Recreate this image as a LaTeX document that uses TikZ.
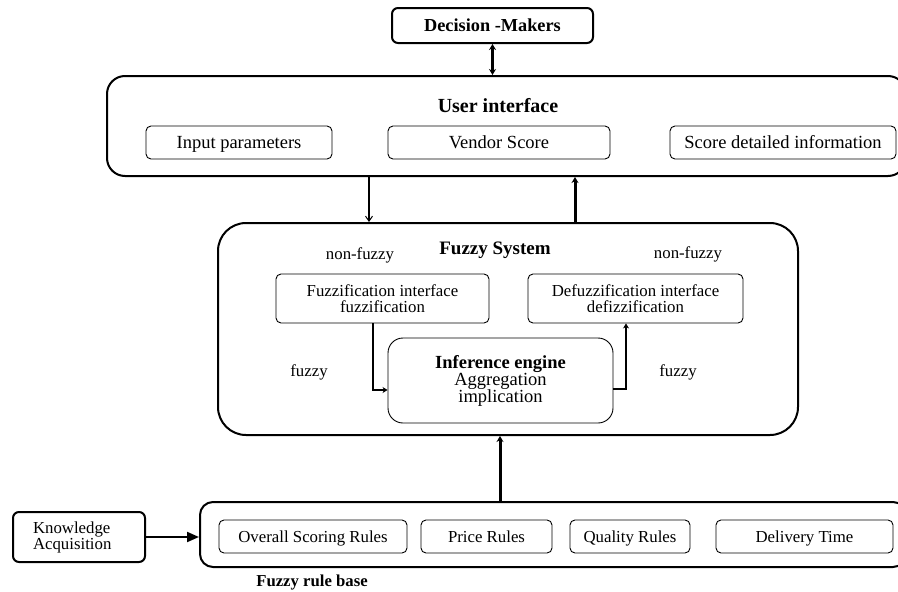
\documentclass[tikz,border=0pt]{standalone}
\usepackage{fontspec}
\setmainfont{Liberation Serif}
\usetikzlibrary{arrows.meta}
\newcommand{\szA}{\fontsize{18.5}{17}\selectfont}
\newcommand{\szB}{\fontsize{16.8}{16}\selectfont}
\tikzset{
  outerbox/.style={draw, line width=2pt, rounded corners=#1},
  outerbox/.default=18pt,
  innerbox/.style={draw, line width=0.9pt, rounded corners=5pt, inner sep=0pt},
  oneline/.style={text height=#1, text depth=0pt},
  oneline/.default=12.2pt,
  lbl/.style={inner sep=0pt},
  thinarrow/.style={line width=1.4pt, -{Straight Barb[length=5pt,width=7pt,line width=1pt]}},
  fatarrow/.style={line width=3pt, -{Stealth[length=6pt,width=7pt]}},
  midarrow/.style={line width=1.8pt, -{Stealth[length=5pt,width=6pt]}},
}
\begin{document}
\begin{tikzpicture}[x=1pt,y=-1pt]
\path[use as bounding box] (0,0) rectangle (898,592);
\clip (0,0) rectangle (898,592);
\fill[white] (0,0) rectangle (898,592);

% Decision makers
\node[outerbox=6pt, oneline=12.1pt, minimum width=201pt, minimum height=35pt, font=\fontsize{18.3}{18}\selectfont\bfseries] (dm) at (492.5,25.5) {Decision -Makers};

% User interface
\node[outerbox=18pt, minimum width=799pt, minimum height=100pt] (ui) at (506.5,126) {};
\node[lbl, font=\fontsize{20}{20}\selectfont\bfseries] (uititle) at (498,106) {User interface};
\node[innerbox, oneline, minimum width=186pt, minimum height=33pt, font=\szA] (inp) at (239,142.5) {Input parameters};
\node[innerbox, oneline, minimum width=222pt, minimum height=33pt, font=\szA] (vs) at (499,142.5) {Vendor Score};
\node[innerbox, oneline, minimum width=226pt, minimum height=33pt, font=\szA] (sdi) at (783,142.5) {Score detailed information};

% Fuzzy system
\node[outerbox=28pt, minimum width=580pt, minimum height=212pt] (fs) at (508,329) {};
\node[lbl, font=\fontsize{19}{19}\selectfont\bfseries] (fstitle) at (495,250) {Fuzzy System};
\node[lbl, font=\szB] (nf1) at (360,255) {non-fuzzy};
\node[lbl, font=\szB] (nf2) at (688,254) {non-fuzzy};
\node[lbl, font=\szB] (fz1) at (309,372) {fuzzy};
\node[lbl, font=\szB] (fz2) at (678,372) {fuzzy};
\node[innerbox, minimum width=213pt, minimum height=49pt, align=center, font=\szB] (fuzzif) at (382.5,298.5) {Fuzzification interface\\fuzzification};
\node[innerbox, minimum width=215pt, minimum height=49pt, align=center, font=\szB] (defuzz) at (635.5,298.5) {Defuzzification interface\\defizzification};
\node[innerbox, rounded corners=15pt, minimum width=225pt, minimum height=85pt, align=center, font=\szA] (inf) at (500.5,380.5) {{\bfseries Inference engine}\\Aggregation\\implication};

% Fuzzy rule base
\node[outerbox=13pt, minimum width=706pt, minimum height=65pt] (rb) at (553,534.5) {};
\node[innerbox, oneline=11.1pt, minimum width=188pt, minimum height=33pt, font=\szB] (osr) at (313,536.5) {Overall Scoring Rules};
\node[innerbox, oneline=11.1pt, minimum width=131pt, minimum height=33pt, font=\szB] (pr) at (486.5,536.5) {Price Rules};
\node[innerbox, oneline=11.1pt, minimum width=120pt, minimum height=33pt, font=\szB] (qr) at (630,536.5) {Quality Rules};
\node[innerbox, oneline=11.1pt, minimum width=177pt, minimum height=33pt, font=\szB] (dt) at (804.5,536.5) {Delivery Time};
\node[lbl, font=\fontsize{16.7}{16}\selectfont\bfseries] (rbtitle) at (312,583) {Fuzzy rule base};

% Knowledge acquisition
\node[outerbox=6pt, minimum width=132pt, minimum height=50pt, text width=92pt, inner xsep=20pt, align=left, font=\szB] (ka) at (79,537) {Knowledge\\Acquisition};

% connector x positions
\coordinate (dnx) at (369,200);
\coordinate (upx) at (575,200);
\coordinate (rbx) at (500,470);

% connectors
\draw[line width=3pt, {Stealth[length=6pt,width=7pt]}-{Stealth[length=6pt,width=7pt]}] (dm.south) -- (dm.south |- ui.north);
\draw[thinarrow] (ui.south -| dnx) -- (fs.north -| dnx);
\draw[fatarrow] (fs.north -| upx) -- (ui.south -| upx);
\draw[fatarrow] (rb.north -| rbx) -- (fs.south -| rbx);
\draw[midarrow] ([xshift=-9.5pt]fuzzif.south) |- ([yshift=-9.5pt]inf.west);
\draw[midarrow] ([yshift=-8.5pt]inf.east) -| ([xshift=-9.5pt]defuzz.south);
\draw[line width=2pt, -{Triangle[length=12pt,width=10pt]}] (ka.east) -- (ka.east -| rb.west);
\end{tikzpicture}
\end{document}
